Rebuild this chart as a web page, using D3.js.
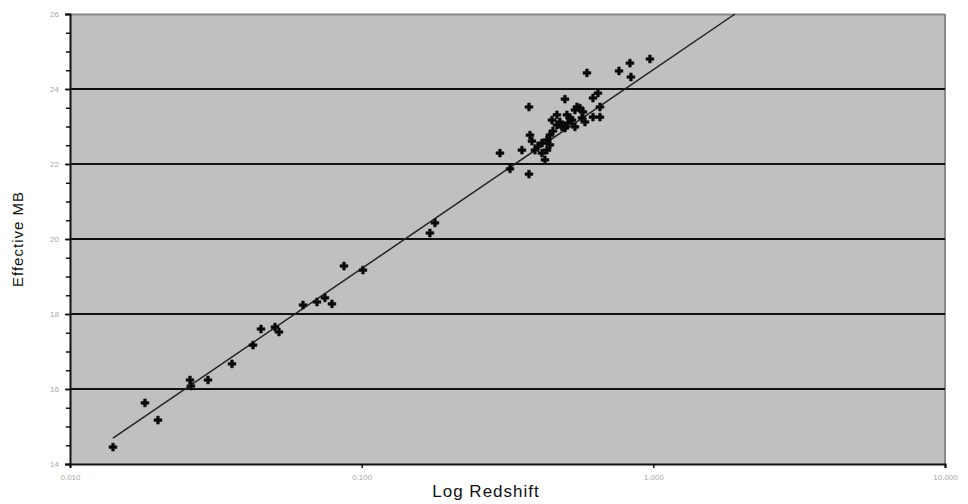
<!DOCTYPE html>
<html>
<head>
<meta charset="utf-8">
<script src="https://cdn.jsdelivr.net/npm/d3@7"></script>
<style>
  html, body { margin: 0; padding: 0; background: #ffffff; }
  svg { display: block; }
  text { font-family: "Liberation Sans", Arial, sans-serif; }
</style>
</head>
<body>
<svg id="chart" width="968" height="504"></svg>
<script>
// Supernova sample: redshift vs effective magnitude
const redshift = [
  0.01404, 0.01807, 0.02003, 0.02579, 0.02599, 0.02972, 0.03592, 0.04240,
  0.04517, 0.05044, 0.05206, 0.06294, 0.07028, 0.07483, 0.07908, 0.08697,
  0.1010, 0.1714, 0.1784,
  0.2979, 0.3225, 0.3544, 0.3746, 0.3746, 0.3776, 0.3836, 0.3928, 0.4022,
  0.4151, 0.4151, 0.4250, 0.4317, 0.4317, 0.4420, 0.4420, 0.4491, 0.4526,
  0.4671, 0.4671, 0.4783, 0.4860, 0.4977, 0.4977, 0.5056, 0.5096, 0.5178,
  0.5260, 0.5386, 0.5386, 0.5472, 0.5604, 0.5692, 0.5738, 0.5829, 0.5922,
  0.6209, 0.6209, 0.6458, 0.6560, 0.6560, 0.7626, 0.8314, 0.8380, 0.9734
];
const magnitude = [
  14.45, 15.63, 15.17, 16.24, 16.08, 16.24, 16.67, 17.17,
  17.60, 17.65, 17.52, 18.24, 18.32, 18.43, 18.27, 19.28,
  19.17, 20.16, 20.43,
  22.29, 21.87, 22.37, 23.52, 21.73, 22.77, 22.61, 22.37, 22.48,
  22.56, 22.29, 22.11, 22.64, 22.37, 22.77, 22.51, 23.17, 22.88,
  23.04, 23.31, 23.12, 22.99, 23.73, 22.96, 23.31, 23.09, 23.23,
  23.17, 23.44, 22.99, 23.52, 23.49, 23.23, 23.39, 23.12, 24.43,
  23.76, 23.25, 23.89, 23.52, 23.25, 24.48, 24.69, 24.32, 24.80
];

// Fitted trend line end points
const fitRedshift = [0.01404, 1.905];
const fitMagnitude = [14.69, 26.0];

// Axis ticks
const xTicks = [0.01, 0.1, 1, 10];
const xTickLabels = ["0.010", "0.100", "1.000", "10.000"];
const yTicks = [14, 16, 18, 20, 22, 24, 26];
const yMinorTicks = d3.range(14, 26.01, 0.5);

const xTitle = "Log Redshift";
const yTitle = "Effective MB";

const W = 968, H = 504;
const margin = { left: 70, right: 23, top: 14, bottom: 40 };
const plotW = W - margin.left - margin.right;
const plotH = H - margin.top - margin.bottom;

const svg = d3.select("#chart");
const g = svg.append("g").attr("transform", `translate(${margin.left},${margin.top})`);

const x = d3.scaleLog().domain([0.01, 10]).range([0, plotW]);
const y = d3.scaleLinear().domain([14, 26]).range([plotH, 0]);

// Plot background
g.append("rect")
  .attr("x", 0).attr("y", 0)
  .attr("width", plotW).attr("height", plotH)
  .attr("fill", "#c0c0c0");

// Top and right frame
g.append("line").attr("x1", 0).attr("x2", plotW).attr("y1", 0.5).attr("y2", 0.5)
  .attr("stroke", "#888888").attr("stroke-width", 2);
g.append("line").attr("x1", plotW).attr("x2", plotW).attr("y1", 0).attr("y2", plotH)
  .attr("stroke", "#888888").attr("stroke-width", 2);

// Horizontal gridlines
g.append("g")
  .selectAll("line")
  .data(yTicks.filter(d => d > 14 && d < 26))
  .join("line")
  .attr("x1", 0).attr("x2", plotW)
  .attr("y1", d => y(d)).attr("y2", d => y(d))
  .attr("stroke", "#111111").attr("stroke-width", 2);

// Y axis: minor ticks then labelled major ticks
const yMinor = g.append("g")
  .call(d3.axisLeft(y).tickValues(yMinorTicks).tickSize(4).tickFormat(""));
yMinor.select(".domain").remove();
yMinor.selectAll(".tick line").attr("stroke", "#111").attr("stroke-width", 1.5);

const yAxis = g.append("g")
  .call(d3.axisLeft(y).tickValues(yTicks).tickSize(5).tickPadding(6).tickFormat(d3.format("d")));
yAxis.select(".domain").attr("stroke", "#111").attr("stroke-width", 2);
yAxis.selectAll(".tick line").attr("stroke", "#111").attr("stroke-width", 1.5);
yAxis.selectAll(".tick text").attr("fill", "#a8a8a8").style("font-size", "8px");

// X axis
const xAxis = g.append("g")
  .attr("transform", `translate(0,${plotH})`)
  .call(d3.axisBottom(x).tickValues(xTicks).tickSize(4).tickPadding(6)
    .tickFormat((d, i) => xTickLabels[i]));
xAxis.select(".domain").attr("stroke", "#111").attr("stroke-width", 2);
xAxis.selectAll(".tick line").attr("stroke", "#111").attr("stroke-width", 1.5);
xAxis.selectAll(".tick text").attr("fill", "#a8a8a8").style("font-size", "8px");

// Trend line
const fitPts = fitRedshift.map((d, i) => [d, fitMagnitude[i]]);
g.append("path")
  .datum(fitPts)
  .attr("d", d3.line().x(d => x(d[0])).y(d => y(d[1])))
  .attr("fill", "none")
  .attr("stroke", "#222222")
  .attr("stroke-width", 1.5);

// Observations
const sym = d3.symbol().type(d3.symbolCross).size(34);
g.append("g")
  .selectAll("path")
  .data(redshift.map((d, i) => [d, magnitude[i]]))
  .join("path")
  .attr("transform", d => `translate(${x(d[0])},${y(d[1])})`)
  .attr("d", sym)
  .attr("fill", "#0a0a0a")
  .attr("stroke", "#0a0a0a")
  .attr("stroke-width", 0.6);

// Axis titles
svg.append("text")
  .attr("x", 486).attr("y", 497)
  .attr("text-anchor", "middle")
  .style("font-size", "17px")
  .style("letter-spacing", "1px")
  .attr("fill", "#111")
  .text(xTitle);

svg.append("text")
  .attr("transform", "translate(23,239) rotate(-90)")
  .attr("text-anchor", "middle")
  .style("font-size", "15px")
  .style("letter-spacing", "1px")
  .attr("fill", "#111")
  .text(yTitle);
</script>
</body>
</html>
